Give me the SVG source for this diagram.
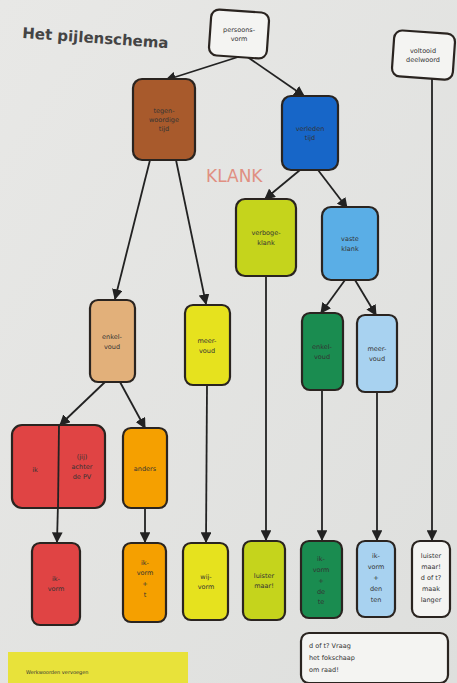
<svg xmlns="http://www.w3.org/2000/svg" width="457" height="683" viewBox="0 0 457 683">
<defs>
<marker id="ah" viewBox="0 0 10 10" refX="9" refY="5" markerWidth="6" markerHeight="6" orient="auto-start-reverse"><path d="M0,0 L10,5 L0,10 z" fill="#222"/></marker>
<linearGradient id="bg" x1="0" y1="0" x2="1" y2="1"><stop offset="0" stop-color="#e8e8e6"/><stop offset="1" stop-color="#dedfdd"/></linearGradient>
</defs>
<style>
.n{stroke:#2a2420;stroke-width:2.2}
.t{font-family:"DejaVu Sans",sans-serif;font-size:6.5px;fill:#333;text-anchor:middle}
.c{stroke:#222;stroke-width:1.8;fill:none}
</style>
<rect width="457" height="683" fill="url(#bg)"/>
<text x="22" y="38" font-family="DejaVu Sans, sans-serif" font-size="15" font-weight="bold" fill="#444" transform="rotate(4 22 38)">Het pijlenschema</text>
<text x="206" y="182" font-family="DejaVu Sans, sans-serif" font-size="17" fill="#e07a6a" opacity="0.8">KLANK</text>

<g id="connectors">
<line class="c" x1="238" y1="57" x2="166" y2="80" marker-end="url(#ah)"/>
<line class="c" x1="246" y1="56" x2="304" y2="96" marker-end="url(#ah)"/>
<line class="c" x1="432" y1="78" x2="432" y2="540" marker-end="url(#ah)"/>
<line class="c" x1="150" y1="160" x2="115" y2="299" marker-end="url(#ah)"/>
<line class="c" x1="176" y1="160" x2="206" y2="304" marker-end="url(#ah)"/>
<line class="c" x1="300" y1="170" x2="265" y2="199" marker-end="url(#ah)"/>
<line class="c" x1="318" y1="170" x2="347" y2="208" marker-end="url(#ah)"/>
<line class="c" x1="266" y1="276" x2="266" y2="540" marker-end="url(#ah)"/>
<line class="c" x1="345" y1="280" x2="321" y2="313" marker-end="url(#ah)"/>
<line class="c" x1="355" y1="280" x2="376" y2="315" marker-end="url(#ah)"/>
<line class="c" x1="322" y1="390" x2="322" y2="540" marker-end="url(#ah)"/>
<line class="c" x1="377" y1="392" x2="377" y2="540" marker-end="url(#ah)"/>
<line class="c" x1="105" y1="382" x2="60" y2="425" marker-end="url(#ah)"/>
<line class="c" x1="60" y1="425" x2="57" y2="542" marker-end="url(#ah)"/>
<line class="c" x1="120" y1="382" x2="145" y2="428" marker-end="url(#ah)"/>
<line class="c" x1="145" y1="508" x2="145" y2="542" marker-end="url(#ah)"/>
<line class="c" x1="207" y1="386" x2="206" y2="542" marker-end="url(#ah)"/>
</g>

<g id="persoonsvorm"><rect class="n" x="210" y="11" width="58" height="46" rx="8" fill="#f4f4f2" transform="rotate(4 239 34)"/><text class="t" x="239" y="32">persoons-</text><text class="t" x="239" y="41">vorm</text></g>
<g id="voltooid"><rect class="n" x="393" y="32" width="61" height="46" rx="8" fill="#f4f4f2" transform="rotate(4 423 55)"/><text class="t" x="423" y="53">voltooid</text><text class="t" x="423" y="62">deelwoord</text></g>
<g id="tegenwoordig"><rect class="n" x="133" y="79" width="62" height="81" rx="9" fill="#a85a2c"/><text class="t" x="164" y="113">tegen-</text><text class="t" x="164" y="122">woordige</text><text class="t" x="164" y="131">tijd</text></g>
<g id="verleden"><rect class="n" x="282" y="96" width="56" height="74" rx="9" fill="#1766c8"/><text class="t" x="310" y="131">verleden</text><text class="t" x="310" y="140">tijd</text></g>
<g id="verbogen"><rect class="n" x="236" y="199" width="60" height="77" rx="9" fill="#c5d41c"/><text class="t" x="266" y="235">verboge-</text><text class="t" x="266" y="245">klank</text></g>
<g id="vaste"><rect class="n" x="322" y="207" width="56" height="73" rx="9" fill="#5aaee6"/><text class="t" x="350" y="241">vaste</text><text class="t" x="350" y="251">klank</text></g>
<g id="enkelvoud1"><rect class="n" x="90" y="300" width="45" height="82" rx="8" fill="#e2b07a"/><text class="t" x="112" y="339">enkel-</text><text class="t" x="112" y="349">voud</text></g>
<g id="meervoud1"><rect class="n" x="185" y="305" width="45" height="80" rx="8" fill="#e6e21e"/><text class="t" x="207" y="343">meer-</text><text class="t" x="207" y="353">voud</text></g>
<g id="enkelvoud2"><rect class="n" x="302" y="313" width="41" height="77" rx="8" fill="#1a8c50"/><text class="t" x="322" y="349">enkel-</text><text class="t" x="322" y="359">voud</text></g>
<g id="meervoud2"><rect class="n" x="357" y="315" width="40" height="77" rx="8" fill="#a8d2f0"/><text class="t" x="377" y="351">meer-</text><text class="t" x="377" y="361">voud</text></g>
<g id="ikjij"><rect class="n" x="12" y="425" width="93" height="83" rx="10" fill="#e04444"/><text class="t" x="35" y="472">ik</text><text class="t" x="82" y="459">(jij)</text><text class="t" x="82" y="469">achter</text><text class="t" x="82" y="479">de PV</text><line class="c" x1="59" y1="425" x2="58" y2="508"/></g>
<g id="anders"><rect class="n" x="123" y="428" width="44" height="80" rx="8" fill="#f5a000"/><text class="t" x="145" y="471">anders</text></g>
<g id="ikvorm"><rect class="n" x="32" y="543" width="48" height="82" rx="8" fill="#e04444"/><text class="t" x="56" y="581">ik-</text><text class="t" x="56" y="591">vorm</text></g>
<g id="ikvormt"><rect class="n" x="123" y="543" width="43" height="79" rx="8" fill="#f5a000"/><text class="t" x="145" y="565">ik-</text><text class="t" x="145" y="575">vorm</text><text class="t" x="145" y="586">+</text><text class="t" x="145" y="597">t</text></g>
<g id="wijvorm"><rect class="n" x="183" y="543" width="45" height="77" rx="8" fill="#e6e21e"/><text class="t" x="206" y="579">wij-</text><text class="t" x="206" y="589">vorm</text></g>
<g id="luister1"><rect class="n" x="243" y="541" width="42" height="79" rx="8" fill="#c5d41c"/><text class="t" x="264" y="578">luister</text><text class="t" x="264" y="588">maar!</text></g>
<g id="ikvormde"><rect class="n" x="301" y="541" width="41" height="77" rx="8" fill="#1a8c50"/><text class="t" x="321" y="561">ik-</text><text class="t" x="321" y="572">vorm</text><text class="t" x="321" y="583">+</text><text class="t" x="321" y="594">de</text><text class="t" x="321" y="604">te</text></g>
<g id="ikvormden"><rect class="n" x="357" y="541" width="38" height="76" rx="8" fill="#a8d2f0"/><text class="t" x="376" y="558">ik-</text><text class="t" x="376" y="569">vorm</text><text class="t" x="376" y="580">+</text><text class="t" x="376" y="591">den</text><text class="t" x="376" y="602">ten</text></g>
<g id="luister2"><rect class="n" x="412" y="541" width="38" height="76" rx="8" fill="#f4f4f2"/><text class="t" x="431" y="558">luister</text><text class="t" x="431" y="569">maar!</text><text class="t" x="431" y="580">d of t?</text><text class="t" x="431" y="591">maak</text><text class="t" x="431" y="602">langer</text></g>
<g id="fokschaap"><rect class="n" x="301" y="633" width="147" height="50" rx="8" fill="#f4f4f2"/><text class="t" x="309" y="648" text-anchor="start" style="text-anchor:start">d of t? Vraag</text><text class="t" x="309" y="660" style="text-anchor:start">het fokschaap</text><text class="t" x="309" y="672" style="text-anchor:start">om raad!</text></g>
<g id="sticky"><rect x="8" y="652" width="180" height="31" fill="#e8e23a"/><text class="t" x="26" y="674" style="text-anchor:start;font-size:5px">Werkwoorden vervoegen</text></g>
</svg>
